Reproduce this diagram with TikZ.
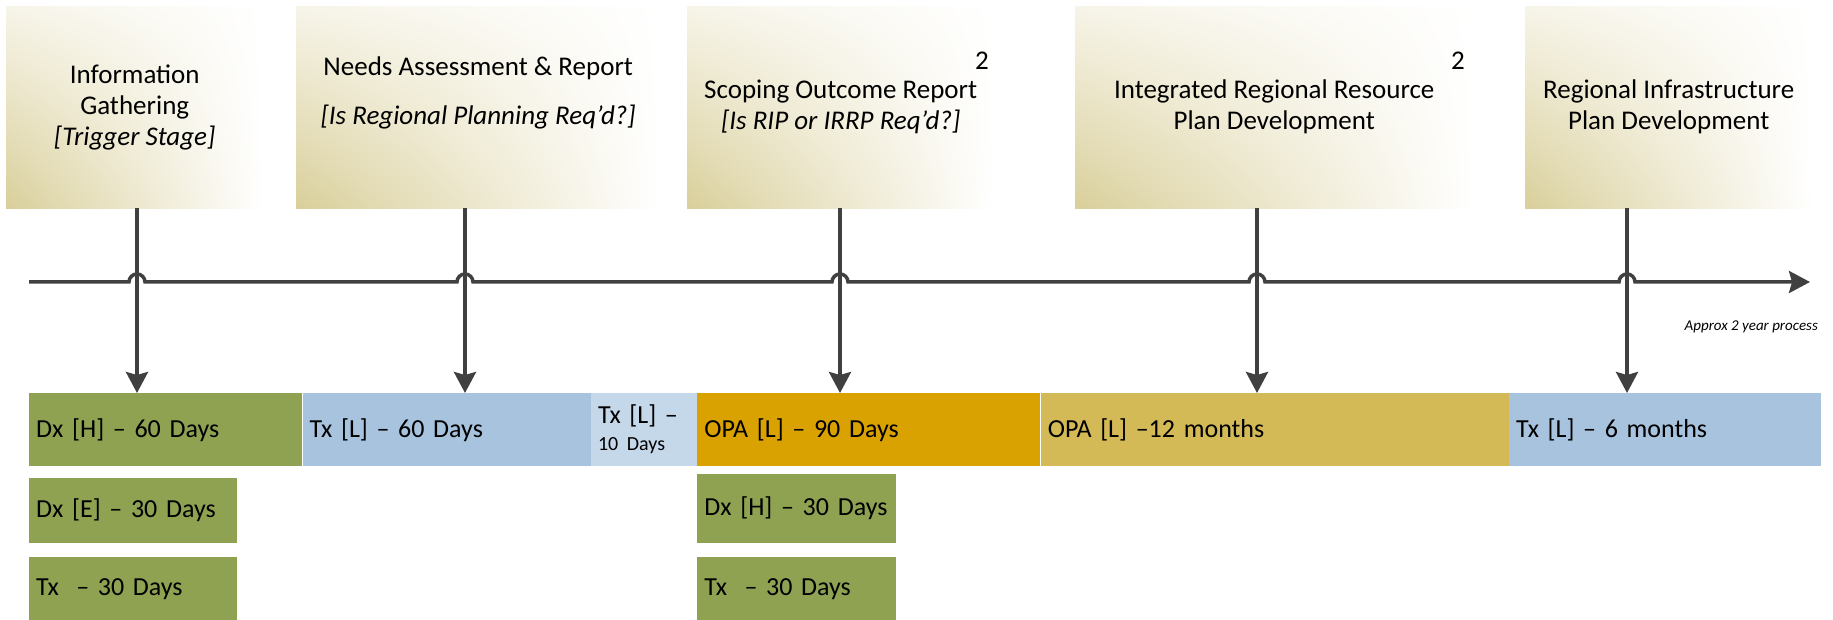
\documentclass[tikz,border=0pt]{standalone}
\usepackage{fontspec}
\setmainfont{Carlito}
\definecolor{khaki}{HTML}{D9CF9A}
\definecolor{dxgreen}{HTML}{8FA252}
\definecolor{txblue}{HTML}{A7C3DD}
\definecolor{txpale}{HTML}{C5D8EA}
\definecolor{opagold}{HTML}{D9A200}
\definecolor{opasand}{HTML}{D4BA56}
\definecolor{arrowgrey}{HTML}{404040}
\usetikzlibrary{arrows.meta}
\usetikzlibrary{positioning, shadings}

\begin{document}
\begin{tikzpicture}[x=1pt, y=-1pt,
		stage/.style={anchor=north west, minimum height=202pt, inner sep=0pt,
			lower left=khaki, upper left=khaki!22, lower right=white, upper right=white},
		stagetxt/.style={anchor=north, align=center, inner sep=0pt, font=\fontsize{27}{31}\selectfont},
		bar/.style={anchor=north west, inner xsep=7pt, inner ysep=0pt, align=left,
			font=\fontsize{26}{31}\selectfont},
		drop/.style={line width=3.5pt, draw=arrowgrey, -{Stealth[length=21pt, width=22pt, inset=3pt]}},
		]
		\useasboundingbox (0,0) rectangle (1833,620);
		% stage boxes
		\node[stage, minimum width=257pt] (st1) at (6,6) {};
		\node[stage, minimum width=364pt] (st2) at (296,6) {};
		\node[stage, minimum width=307pt] (st3) at (687,6) {};
		\node[stage, minimum width=398pt] (st4) at (1075,6) {};
		\node[stage, minimum width=287pt] (st5) at (1525,6) {};
		\node[stagetxt, below=59pt of st1.north] (lb1) {Information\\Gathering\\\textit{[Trigger Stage]}};
		\node[stagetxt, below=51pt of st2.north] (lb2) {Needs Assessment \& Report\\[18pt]\textit{[Is Regional Planning Req’d?]}};
		\node[stagetxt, below=74pt of st3.north] (lb3) {Scoping Outcome Report\\\textit{[Is RIP or IRRP Req’d?]}};
		\node[stagetxt, below=74pt of st4.north] (lb4) {Integrated Regional Resource\\Plan Development};
		\node[stagetxt, below=74pt of st5.north] (lb5) {Regional Infrastructure\\Plan Development};
		\node[stagetxt, anchor=center] (fn3) at (982,61) {2};
		\node[stagetxt, anchor=center] (fn4) at (1458,61) {2};
		
		% duration bars
		\node[bar, fill=dxgreen, text width=259pt, minimum height=73pt] (b1) at (29,393) {Dx [H] – 60 Days};
		\node[bar, fill=txblue, text width=274pt, minimum height=73pt, right=0pt of b1] (b2) {Tx [L] – 60 Days};
		\node[bar, fill=txpale, text width=92pt, minimum height=73pt, right=0pt of b2] (b3) {Tx [L] –\\[-4pt]{\fontsize{20}{24}\selectfont 10 Days}};
		\node[bar, fill=opagold, text width=329pt, minimum height=73pt, right=0pt of b3] (b4) {OPA [L] – 90 Days};
		\node[bar, fill=opasand, text width=454pt, minimum height=73pt, right=0pt of b4] (b5) {OPA [L] –12 months};
		\node[bar, fill=txblue, text width=298pt, minimum height=73pt, right=0pt of b5] (b6) {Tx [L] – 6 months};
		\node[bar, fill=dxgreen, text width=194pt, minimum height=65pt, below right=11pt and 0pt of b1.south west] (d2) {Dx [E] – 30 Days};
		\node[bar, fill=dxgreen, text width=194pt, minimum height=64pt, below right=14pt and 0pt of d2.south west] (d3) {Tx~~– 30 Days};
		\node[bar, fill=dxgreen, text width=185pt, minimum height=69pt, below right=7pt and 0pt of b4.south west] (o2) {Dx [H] – 30 Days};
		\node[bar, fill=dxgreen, text width=185pt, minimum height=64pt, below right=14pt and 0pt of o2.south west] (o3) {Tx~~– 30 Days};
		
		% time line
		\coordinate (tstart) at (29,282);
		\coordinate (tend) at (1810,282);
		\coordinate (t1) at (137,282);
		\coordinate (t2) at (465,282);
		\coordinate (t3) at (840,282);
		\coordinate (t4) at (1257,282);
		\coordinate (t5) at (1627,282);
		\draw[drop] (tstart) \foreach \i in {1,...,5} {-- ([xshift=-8pt]t\i) arc[start angle=180, end angle=0, radius=8pt]} -- (tend);
		\foreach \i in {1,...,5}
		\draw[drop] (st\i.south -| t\i) -- (t\i |- b1.north);
		\node[anchor=east, inner sep=0pt, font=\fontsize{15}{18}\selectfont\itshape] (span) at (1818,327) {Approx 2 year process};
	\end{tikzpicture}
\end{document}
